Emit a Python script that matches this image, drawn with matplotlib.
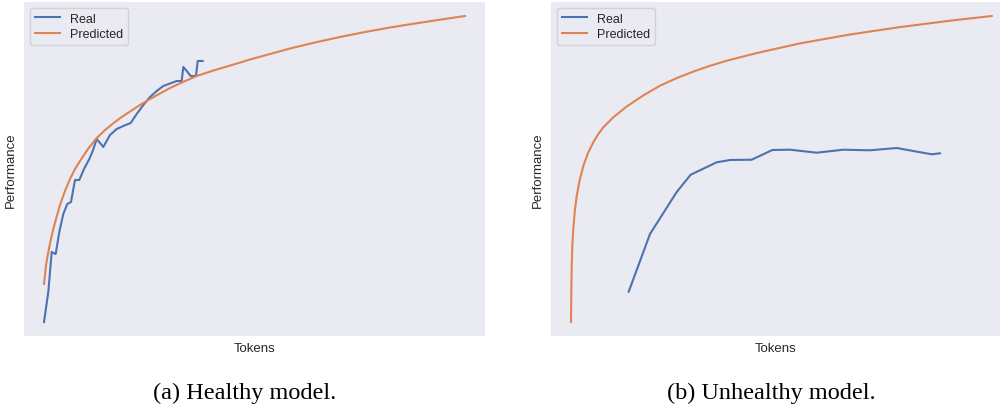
import matplotlib
matplotlib.use("Agg")
import matplotlib.pyplot as plt

# ---- data (arbitrary units) ----
# (a) Healthy model
healthy_real_tokens = [20, 24.3, 27.7, 31.7, 35.3, 39.3, 43.3, 47, 51, 55.3, 60, 65.3, 68.7, 72.7,
                       79.3, 86, 92.7, 99.3, 106.7, 112.7, 119.3, 126, 132.7, 139.3, 152.7, 157.7,
                       159.3, 162.7, 166.7, 172, 173.7, 178.7]
healthy_real_perf = [14, 44, 84, 82, 104, 122, 132, 134, 156, 156, 167, 177, 185, 197,
                     189, 201, 207, 210, 213, 222, 231, 239, 245, 250, 255, 255,
                     269, 265, 260, 260, 275, 275]
healthy_pred_tokens = [20, 22, 24.3, 27, 29.3, 32, 36, 41, 46, 51, 56, 64, 72.7, 81, 89, 97,
                       106, 116, 126, 136, 146, 159, 172.7, 191, 208, 226, 246, 266, 291,
                       316, 341, 366, 391, 416, 441]
healthy_pred_perf = [52, 71, 84, 97, 107, 117, 131, 145, 157, 167, 175, 187, 198, 206, 212.5,
                     218.5, 224.5, 231, 237, 242.5, 248, 254, 260, 266, 271, 276.5, 282,
                     287.5, 293.5, 299, 304, 308.5, 312.5, 316.3, 320]

# (b) Unhealthy model
unhealthy_real_tokens = [77.7, 99, 125.7, 139.7, 165.7, 179, 200.7, 221.3, 239, 265.7, 292.3,
                         319, 345.7, 380.7, 389]
unhealthy_real_perf = [44.3, 102, 144, 161.3, 173.7, 176, 176.3, 186, 186.3, 183.3, 186.3,
                       185.7, 188, 181.7, 182.7]
unhealthy_pred_tokens = [20, 20.3, 20.7, 21.4, 22.3, 23.8, 25.7, 28.5, 32.3, 37, 42.3, 47, 52.3,
                         62.3, 75.7, 92.3, 109, 125.7, 142.3, 159, 175.7, 189, 209, 249, 299,
                         349, 399, 440.7]
unhealthy_pred_perf = [14, 42, 70, 92, 107, 125, 140, 155, 170, 183, 193.7, 201.5, 208.7,
                       218.7, 229.5, 240.6, 250.3, 257.9, 264.4, 270.2, 275.3, 278.7, 283.7,
                       292.6, 301.5, 308.9, 315.3, 320]

captions = ["(a) Healthy model.", "(b) Unhealthy model."]

BLUE = "#4C72B0"
ORANGE = "#DD8452"
BG = "#EAEAF2"
SANS = ["Liberation Sans", "DejaVu Sans"]

W, H = 1003, 406
fig = plt.figure(figsize=(W / 100, H / 100), dpi=100)

panels = [
    (24, 461, 245, healthy_real_tokens, healthy_real_perf, healthy_pred_tokens, healthy_pred_perf),
    (551, 449, 771, unhealthy_real_tokens, unhealthy_real_perf, unhealthy_pred_tokens, unhealthy_pred_perf),
]

for i, (left, width, cap_x, rx, ry, px, py) in enumerate(panels):
    ax = fig.add_axes([left / W, (H - 337) / H, width / W, 334 / H])
    ax.set_facecolor(BG)
    for s in ax.spines.values():
        s.set_visible(False)
    ax.plot(rx, ry, color=BLUE, lw=1.5, label="Real")
    ax.plot(px, py, color=ORANGE, lw=1.5, label="Predicted")
    ax.set_xlim(0, width)
    ax.set_ylim(0, 334)
    ax.set_xticks([])
    ax.set_yticks([])
    ax.set_xlabel("Tokens", fontsize=9.5, family=SANS, color="#262626", labelpad=4)
    ax.set_ylabel("Performance", fontsize=9.5, family=SANS, color="#262626", labelpad=5)
    leg = ax.legend(loc="upper left", frameon=True, fancybox=True,
                    prop={"family": SANS, "size": 9},
                    borderaxespad=0.45, handlelength=2.0, labelspacing=0.3)
    leg.get_frame().set_facecolor(BG)
    leg.get_frame().set_edgecolor("#CCCCCC")
    for t in leg.get_texts():
        t.set_color("#262626")
    fig.text(cap_x / W, 1 - 399 / H, captions[i], ha="center", va="baseline",
             fontsize=17.5, family="Liberation Serif", color="black")

fig.savefig("out.png", dpi=100, facecolor="white")
